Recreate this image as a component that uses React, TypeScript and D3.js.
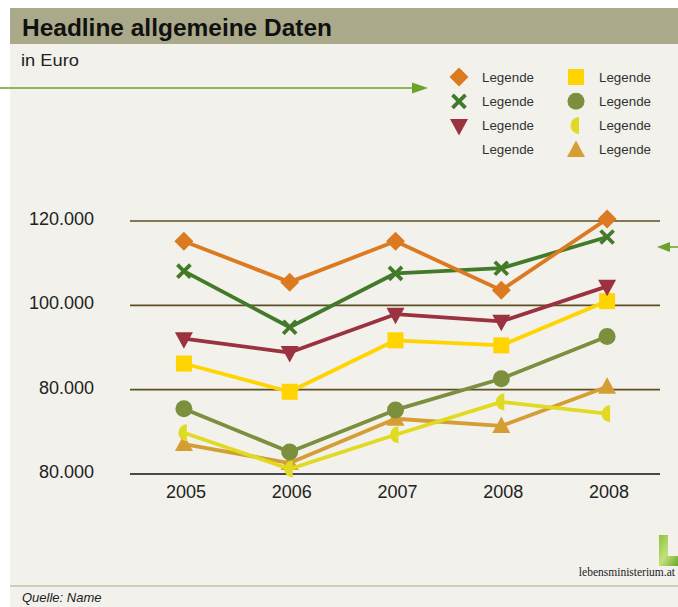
import React from "react";
import * as d3 from "d3";

const years = ["2005", "2006", "2007", "2008", "2008 "];
const yTicks = [120000, 100000, 80000, 60000];
const yTickLabels = ["120.000", "100.000", "80.000", "80.000"];

const orangeDiamond = [115200, 105500, 115200, 103600, 120500];
const greenCross = [108100, 94800, 107600, 108800, 116200];
const redTriangle = [92100, 88800, 97900, 96200, 104500];
const yellowSquare = [86200, 79500, 91700, 90500, 101000];
const oliveCircle = [75500, 65200, 75200, 82600, 92600];
const limeHalf = [69800, 61200, 69300, 77100, 74300];
const goldTriangle = [67100, 62600, 73100, 71400, 80700];

const legendLabels = ["Legende", "Legende", "Legende", "Legende", "Legende", "Legende", "Legende", "Legende"];

type Shape = "diamond" | "cross" | "triDown" | "square" | "circle" | "half" | "triUp" | "none";

const series: { values: number[]; color: string; shape: Shape }[] = [
  { values: goldTriangle, color: "#d49e34", shape: "triUp" },
  { values: limeHalf, color: "#e0db22", shape: "half" },
  { values: oliveCircle, color: "#7b8f3c", shape: "circle" },
  { values: yellowSquare, color: "#ffd400", shape: "square" },
  { values: redTriangle, color: "#9a323f", shape: "triDown" },
  { values: greenCross, color: "#437a2a", shape: "cross" },
  { values: orangeDiamond, color: "#dc7a22", shape: "diamond" },
];

function Marker({ shape, x, y, color }: { shape: Shape; x: number; y: number; color: string }) {
  switch (shape) {
    case "diamond":
      return <path d={`M${x},${y - 9.5}L${x + 9.5},${y}L${x},${y + 9.5}L${x - 9.5},${y}Z`} fill={color} />;
    case "cross":
      return (
        <g stroke={color} strokeWidth={3.8}>
          <line x1={x - 6.5} y1={y - 6.5} x2={x + 6.5} y2={y + 6.5} />
          <line x1={x - 6.5} y1={y + 6.5} x2={x + 6.5} y2={y - 6.5} />
        </g>
      );
    case "triDown":
      return <path d={`M${x - 9},${y - 6.5}L${x + 9},${y - 6.5}L${x},${y + 10}Z`} fill={color} />;
    case "triUp":
      return <path d={`M${x - 9},${y + 7}L${x + 9},${y + 7}L${x},${y - 9.5}Z`} fill={color} />;
    case "square":
      return <rect x={x - 8} y={y - 8} width={16} height={16} fill={color} />;
    case "circle":
      return <circle cx={x} cy={y} r={8.5} fill={color} />;
    case "half":
      return <path d={`M${x + 3},${y - 8.5}A8.5,8.5 0 0 0 ${x + 3},${y + 8.5}Z`} fill={color} />;
    default:
      return null;
  }
}

export default function App() {
  const W = 678;
  const H = 607;
  const x = d3.scaleBand<string>().domain(years).range([131, 660]);
  const y = d3.scaleLinear().domain([60000, 120000]).range([474, 221]);
  const cx = (i: number) => (x(years[i]) as number) + x.bandwidth() / 2;
  const line = d3
    .line<number>()
    .x((_, i) => cx(i))
    .y((v) => y(v));

  const legend: { shape: Shape; color: string; col: number; row: number }[] = [
    { shape: "diamond", color: "#dc7a22", col: 0, row: 0 },
    { shape: "cross", color: "#437a2a", col: 0, row: 1 },
    { shape: "triDown", color: "#9a323f", col: 0, row: 2 },
    { shape: "none", color: "none", col: 0, row: 3 },
    { shape: "square", color: "#ffd400", col: 1, row: 0 },
    { shape: "circle", color: "#7b8f3c", col: 1, row: 1 },
    { shape: "half", color: "#e0db22", col: 1, row: 2 },
    { shape: "triUp", color: "#d49e34", col: 1, row: 3 },
  ];
  const font = "'Liberation Sans', Arial, Helvetica, sans-serif";

  return (
    <svg
      width={W}
      height={H}
      style={{ position: "absolute", left: 0, top: 0, display: "block" }}
      fontFamily={font}
    >
      <defs>
        <linearGradient id="lg" x1="0" y1="0" x2="1" y2="1">
          <stop offset="0" stopColor="#8cc43a" />
          <stop offset="0.5" stopColor="#c2e07a" />
          <stop offset="1" stopColor="#6aa82a" />
        </linearGradient>
      </defs>
      <rect x={0} y={0} width={W} height={H} fill="#ffffff" />
      <rect x={10} y={8} width={W - 10} height={H - 8} fill="#f2f1ec" />
      <rect x={10} y={8} width={W - 10} height={36} fill="#aaa98a" />
      <text x={22} y={35.5} fontSize={23} fontWeight="bold" fill="#111" textLength={310} lengthAdjust="spacingAndGlyphs">
        Headline allgemeine Daten
      </text>
      <text x={21} y={66} fontSize={17} fill="#222" textLength={58} lengthAdjust="spacingAndGlyphs">
        in Euro
      </text>

      {/* left arrow */}
      <line x1={0} y1={88} x2={414} y2={88} stroke="#6aa22a" strokeWidth={1.5} />
      <path d="M412,82.5L428,88L412,93.5Z" fill="#6aa22a" />
      {/* right arrow */}
      <line x1={668} y1={247} x2={678} y2={247} stroke="#6aa22a" strokeWidth={1.5} />
      <path d="M657,247L670,242L670,252Z" fill="#6aa22a" />

      {/* legend */}
      {legend.map((l, i) => {
        const lx = l.col === 0 ? 459 : 576;
        const ly = 77 + l.row * 24.3;
        return (
          <g key={i}>
            <Marker shape={l.shape} x={lx} y={ly} color={l.color} />
            <text x={lx + 23} y={ly + 4.5} fontSize={12.5} fill="#333" textLength={52} lengthAdjust="spacingAndGlyphs">
              {legendLabels[i]}
            </text>
          </g>
        );
      })}

      {/* grid */}
      {yTicks.map((t, i) => (
        <g key={t}>
          <line
            x1={130}
            x2={660}
            y1={y(t)}
            y2={y(t)}
            stroke={i === yTicks.length - 1 ? "#111" : "#5e4e22"}
            strokeWidth={1.6}
          />
          <text x={94} y={y(t) + 4} fontSize={18} textAnchor="end" fill="#222">
            {yTickLabels[i]}
          </text>
        </g>
      ))}
      {years.map((yr, i) => (
        <text key={i} x={cx(i) + 2} y={498} fontSize={18} textAnchor="middle" fill="#222">
          {yr.trim()}
        </text>
      ))}

      {/* series */}
      {series.map((s, si) => (
        <g key={si}>
          <path d={line(s.values) || ""} fill="none" stroke={s.color} strokeWidth={3.8} strokeLinejoin="round" />
          {s.values.map((v, i) => (
            <Marker key={i} shape={s.shape} x={cx(i)} y={y(v)} color={s.color} />
          ))}
        </g>
      ))}

      {/* logo */}
      <path d="M659,535L668,535L668,556L678,556L678,566L659,566Z" fill="url(#lg)" />
      <text x={675} y={576} fontSize={11.5} textAnchor="end" fill="#222" fontFamily="'Liberation Serif', 'Times New Roman', serif">
        lebensministerium.at
      </text>
      <line x1={10} x2={W} y1={586} y2={586} stroke="#cfcfb8" strokeWidth={2} />
      <text x={22} y={602} fontSize={13} fontStyle="italic" fill="#222">
        Quelle: Name
      </text>
    </svg>
  );
}
